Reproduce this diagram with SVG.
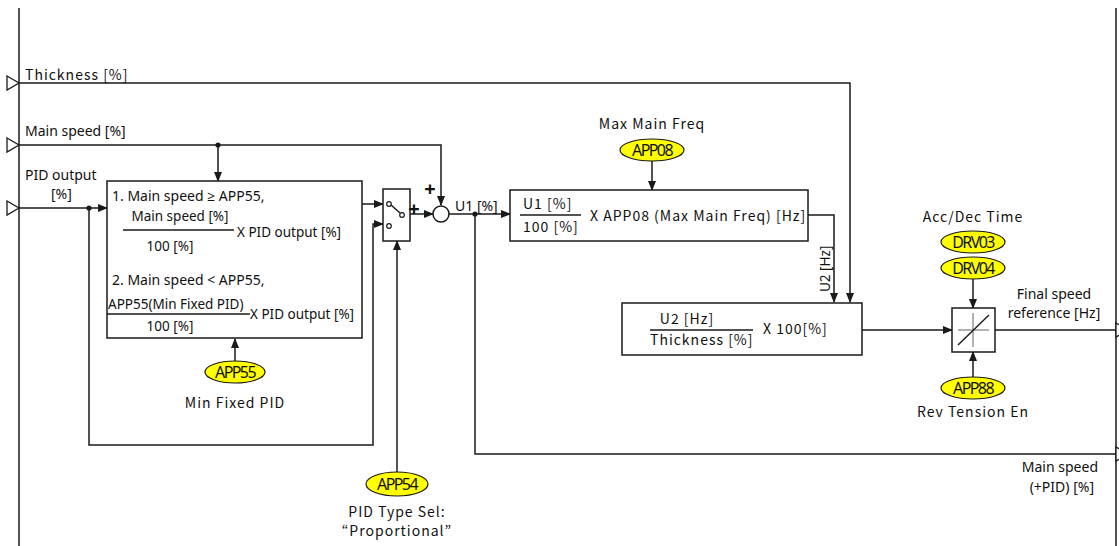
<svg xmlns="http://www.w3.org/2000/svg" width="1119" height="546" viewBox="0 0 1119 546">
<style>
.ln{fill:none;stroke:#1a1a1a;stroke-width:1.5}
.bx{fill:#fff;stroke:#1a1a1a;stroke-width:1.5}
.t{font-family:"Noto Sans","Open Sans",sans-serif;font-size:14px;fill:#111}
.s{font-family:"Noto Sans","Open Sans",sans-serif;font-size:13.5px;fill:#111}
.k{font-family:"Noto Sans CJK KR","Noto Sans",sans-serif;font-size:14px;fill:#111;letter-spacing:1px}
.p{fill:#ffff00;stroke:#1a1a1a;stroke-width:1.2}
.pt{font-family:"Noto Sans","Open Sans",sans-serif;font-size:16px;fill:#111;text-anchor:middle;letter-spacing:-1.6px}
.tri{fill:#fff;stroke:#1a1a1a;stroke-width:1.3}
.dot{fill:#1a1a1a}
.m{text-anchor:middle}
.pl{font-family:"Noto Sans",sans-serif;font-size:20px;font-weight:bold;fill:#111;text-anchor:middle}
</style>
<defs>
<marker id="ah" markerWidth="10" markerHeight="8" refX="9" refY="4" orient="auto" markerUnits="userSpaceOnUse">
<path d="M0,0 L10,4 L0,8 Z" fill="#1a1a1a"/>
</marker>
</defs>

<g id="frame">
<line class="ln" x1="19" y1="8" x2="19" y2="546"/>
<line class="ln" x1="1116" y1="8" x2="1116" y2="546"/>
</g>

<g id="inputs">
<polygon class="tri" points="7,76 19,83 7,90"/>
<text class="k" x="25" y="80">Thickness  [%]</text>
<polygon class="tri" points="7,138 19,145 7,152"/>
<text class="t" x="25" y="136">Main speed [%]</text>
<polygon class="tri" points="7,201 19,208 7,215"/>
<text class="t" x="25" y="180">PID output</text>
<text class="t" x="51" y="199">[%]</text>
</g>

<g id="outputs">
<polygon class="tri" points="1116,323 1128,330 1116,337"/>
<text class="t m" x="1054" y="299">Final speed</text>
<text class="t m" x="1054" y="318">reference [Hz]</text>
<polygon class="tri" points="1116,447 1128,454 1116,461"/>
<text class="t" x="1098" y="472" text-anchor="end">Main speed</text>
<text class="t" x="1094" y="492" text-anchor="end">(+PID) [%]</text>
</g>

<g id="connectors">
<polyline class="ln" points="19,83 850,83 850,302" marker-end="url(#ah)"/>
<polyline class="ln" points="19,145 441,145 441,205" marker-end="url(#ah)"/>
<circle class="dot" cx="218" cy="145" r="2.6"/>
<line class="ln" x1="218" y1="145" x2="218" y2="181" marker-end="url(#ah)"/>
<line class="ln" x1="19" y1="208" x2="107" y2="208" marker-end="url(#ah)"/>
<circle class="dot" cx="89" cy="208" r="2.6"/>
<polyline class="ln" points="89,208 89,445 373,445 373,224 383,224" marker-end="url(#ah)"/>
<line class="ln" x1="362" y1="204" x2="383" y2="204" marker-end="url(#ah)"/>
<line class="ln" x1="397" y1="472" x2="397" y2="241" marker-end="url(#ah)"/>
<line class="ln" x1="403" y1="214" x2="433" y2="214" marker-end="url(#ah)"/>
<line class="ln" x1="449" y1="214" x2="510" y2="214" marker-end="url(#ah)"/>
<circle class="dot" cx="475" cy="214" r="2.6"/>
<polyline class="ln" points="475,214 475,454 1116,454"/>
<line class="ln" x1="235" y1="361" x2="235" y2="339" marker-end="url(#ah)"/>
<line class="ln" x1="652" y1="161" x2="652" y2="190" marker-end="url(#ah)"/>
<polyline class="ln" points="808,215 834,215 834,302" marker-end="url(#ah)"/>
<line class="ln" x1="862" y1="330" x2="952" y2="330" marker-end="url(#ah)"/>
<line class="ln" x1="995" y1="330" x2="1116" y2="330"/>
<line class="ln" x1="973" y1="279" x2="973" y2="308" marker-end="url(#ah)"/>
<line class="ln" x1="973" y1="377" x2="973" y2="352" marker-end="url(#ah)"/>
<text class="t" x="455" y="211">U1 [%]</text>
<text class="s" x="0" y="0" transform="translate(830,292) rotate(-90)">U2 [Hz]</text>
</g>

<g id="box1">
<rect class="bx" x="107" y="181" width="255" height="157"/>
<text class="t" x="112" y="201">1. Main speed ≥ APP55,</text>
<text class="s m" x="180" y="221">Main speed [%]</text>
<line class="ln" x1="123" y1="230" x2="234" y2="230" stroke-width="1.2"/>
<text class="s m" x="170" y="251">100 [%]</text>
<text class="s" x="237" y="237">X  PID output [%]</text>
<text class="t" x="112" y="285">2. Main speed &lt; APP55,</text>
<text class="s" x="108" y="309">APP55(Min Fixed PID)</text>
<line class="ln" x1="107" y1="314" x2="250" y2="314" stroke-width="1.2"/>
<text class="s m" x="170" y="331">100 [%]</text>
<text class="s" x="250" y="319">X PID output [%]</text>
</g>

<g id="app55">
<ellipse class="p" cx="235" cy="372" rx="30" ry="11"/>
<text class="pt" x="235" y="378">APP55</text>
<text class="k m" x="235" y="408">Min Fixed PID</text>
</g>

<g id="switch">
<rect class="bx" x="383" y="189" width="27" height="52"/>
<circle cx="389" cy="204" r="2.3" fill="#fff" stroke="#1a1a1a" stroke-width="1.2"/>
<circle cx="389" cy="226" r="2.3" fill="#fff" stroke="#1a1a1a" stroke-width="1.2"/>
<circle cx="402" cy="215" r="2.3" fill="#fff" stroke="#1a1a1a" stroke-width="1.2"/>
<line class="ln" x1="391" y1="205" x2="400" y2="213" stroke-width="1.2"/>
<text class="pl" x="414" y="216">+</text>
</g>

<g id="app54">
<ellipse class="p" cx="397" cy="484" rx="31" ry="12"/>
<text class="pt" x="397" y="490">APP54</text>
<text class="k m" x="397" y="517">PID Type Sel:</text>
<text class="k m" x="397" y="536">“Proportional”</text>
</g>

<g id="sum">
<circle cx="441" cy="214" r="8" fill="#fff" stroke="#1a1a1a" stroke-width="1.5"/>
<text class="pl" x="430" y="196">+</text>
</g>

<g id="box3">
<rect class="bx" x="510" y="190" width="298" height="51"/>
<text class="k" x="523" y="209">U1  [%]</text>
<line class="ln" x1="520" y1="215" x2="581" y2="215" stroke-width="1.2"/>
<text class="k" x="523" y="232">100  [%]</text>
<text class="k" x="590" y="221" letter-spacing="0.3">X APP08 (Max Main Freq) [Hz]</text>
</g>

<g id="app08">
<text class="k m" x="652" y="129">Max Main  Freq</text>
<ellipse class="p" cx="652" cy="150" rx="32" ry="11"/>
<text class="pt" x="652" y="156">APP08</text>
</g>

<g id="box2">
<rect class="bx" x="622" y="303" width="240" height="52"/>
<text class="k m" x="687" y="324">U2  [Hz]</text>
<line class="ln" x1="650" y1="330" x2="753" y2="330" stroke-width="1.2"/>
<text class="k" x="650" y="345">Thickness  [%]</text>
<text class="k" x="763" y="334" letter-spacing="0">X 100[%]</text>
</g>

<g id="ramp">
<rect class="bx" x="952" y="308" width="43" height="44"/>
<line x1="958" y1="330" x2="989" y2="330" stroke="#888" stroke-width="1.3"/>
<line x1="973" y1="313" x2="973" y2="347" stroke="#888" stroke-width="1.3"/>
<line x1="958" y1="345" x2="989" y2="315" stroke="#1a1a1a" stroke-width="1.4"/>
</g>

<g id="accdec">
<text class="k m" x="973" y="222">Acc/Dec  Time</text>
<ellipse class="p" cx="973" cy="242" rx="32" ry="11"/>
<text class="pt" x="973" y="248">DRV03</text>
<ellipse class="p" cx="973" cy="268" rx="32" ry="11"/>
<text class="pt" x="973" y="274">DRV04</text>
</g>

<g id="app88">
<ellipse class="p" cx="973" cy="388" rx="32" ry="11"/>
<text class="pt" x="973" y="394">APP88</text>
<text class="k m" x="973" y="417">Rev Tension En</text>
</g>
</svg>
